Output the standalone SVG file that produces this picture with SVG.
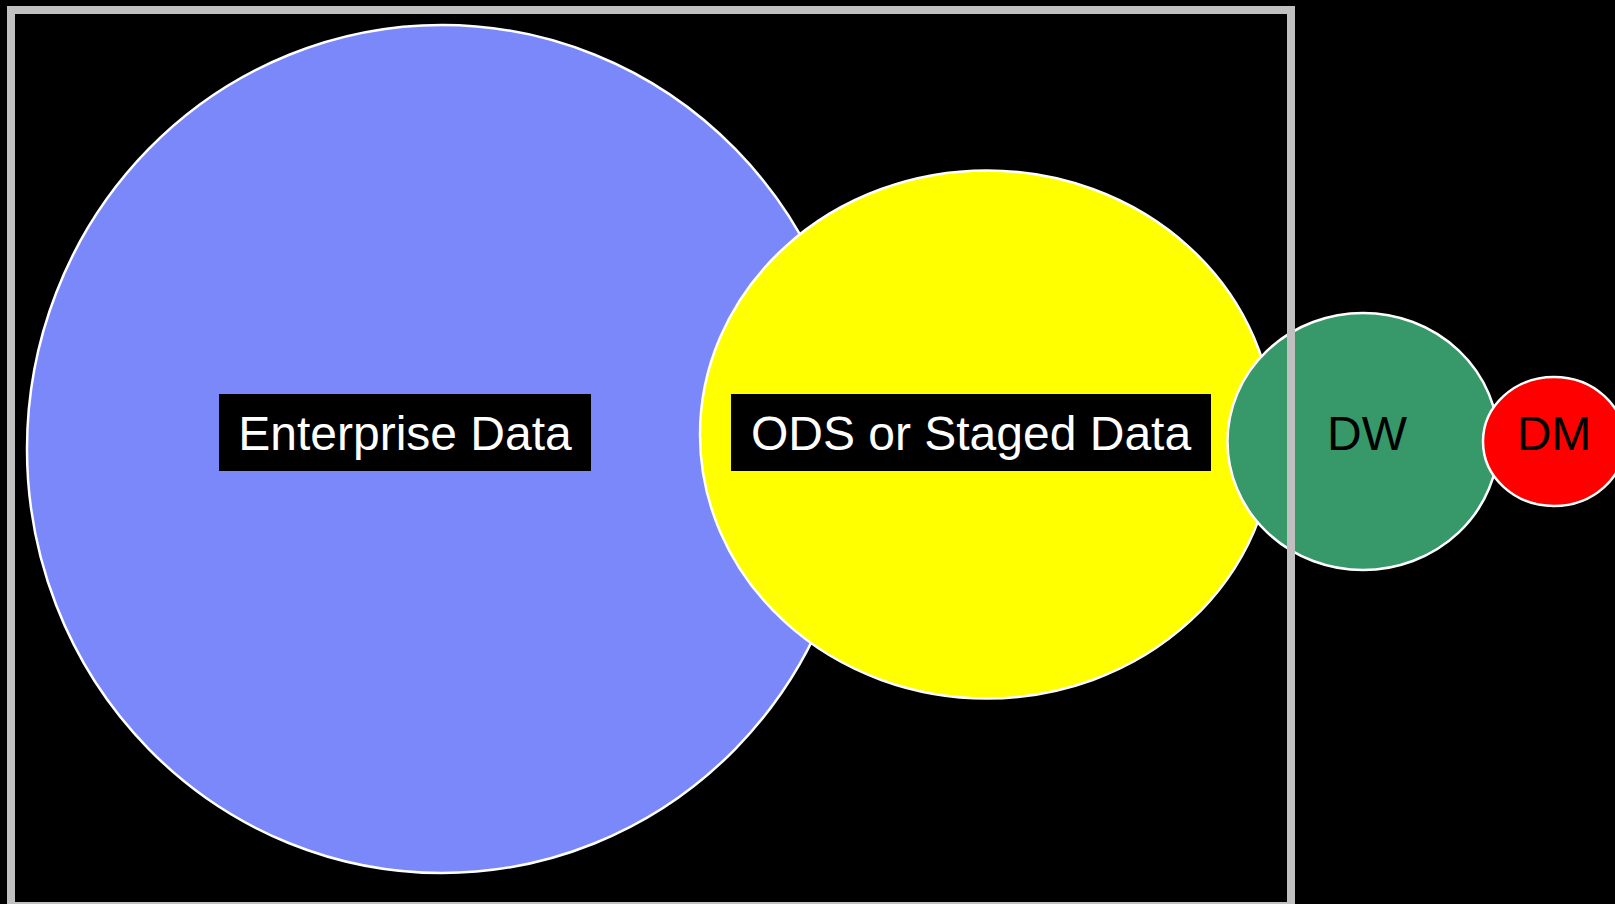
<svg xmlns="http://www.w3.org/2000/svg" width="1615" height="904" viewBox="0 0 1615 904">
<style>
.node { stroke: #ffffff; stroke-width: 2.5; }
.lbl { font-family: "Liberation Sans", Arial, sans-serif; font-size: 48px; text-anchor: middle; }
.box { fill: #000000; }
</style>
<rect x="0" y="0" width="1615" height="904" fill="#000000"/>
<g id="enterprise">
<ellipse class="node" cx="442" cy="449" rx="415" ry="424" fill="#7a88fa"/>
</g>
<g id="ods">
<ellipse class="node" cx="987" cy="434.5" rx="287" ry="264" fill="#ffff00"/>
</g>
<g id="dw">
<ellipse class="node" cx="1363" cy="441.5" rx="135.5" ry="128.5" fill="#379969"/>
</g>
<g id="frame">
<rect x="11" y="10" width="1280" height="896" fill="none" stroke="#c0c0c0" stroke-width="8"/>
</g>
<g id="dm">
<ellipse class="node" cx="1554" cy="441.5" rx="71" ry="64.5" fill="#ff0000"/>
</g>
<g id="enterprise-label">
<rect class="box" x="219" y="394" width="372" height="77"/>
<text class="lbl" x="405" y="450" fill="#ffffff">Enterprise Data</text>
</g>
<g id="ods-label">
<rect class="box" x="731" y="394" width="480" height="77"/>
<text class="lbl" x="971" y="450" fill="#ffffff">ODS or Staged Data</text>
</g>
<g id="dw-label">
<text class="lbl" x="1367" y="450" fill="#000000">DW</text>
</g>
<g id="dm-label">
<text class="lbl" x="1554" y="450" fill="#000000">DM</text>
</g>
<g id="connectors"></g>
</svg>
